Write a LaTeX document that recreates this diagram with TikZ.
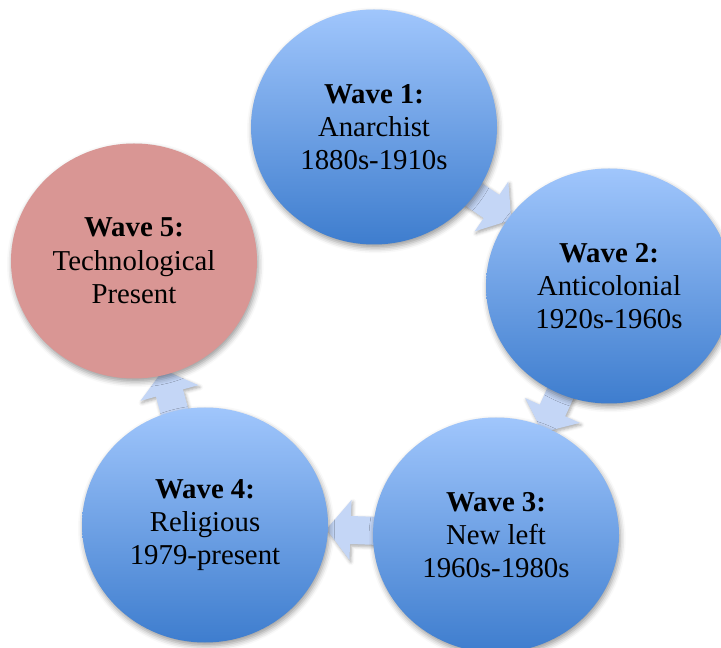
\documentclass[tikz,border=0pt]{standalone}
\usepackage{fontspec}
\setmainfont{Liberation Serif}
\usetikzlibrary{shapes.geometric,shadows.blur,calc}

\definecolor{waveTop}{RGB}{160,198,252}
\definecolor{waveBot}{RGB}{62,125,206}
\definecolor{waveRed}{RGB}{217,150,148}
\definecolor{arrowFill}{RGB}{196,214,246}

\pgfdeclarelayer{bg}
\pgfsetlayers{bg,main}

\tikzset{
  wave/.style={ellipse, inner sep=0pt, minimum width=184.5pt, minimum height=176.25pt,
    align=center, font=\fontsize{21.6}{25}\selectfont,
    blur shadow={shadow xshift=1pt, shadow yshift=-2.5pt, shadow blur radius=4pt, shadow opacity=40}},
  bluewave/.style={wave, top color=waveTop, bottom color=waveBot},
  redwave/.style={wave, fill=waveRed},
  pics/cyclearrow/.style={code={
    \fill[arrowFill, blur shadow={shadow xshift=1pt, shadow yshift=-1.5pt, shadow blur radius=2.5pt, shadow opacity=35}]
      (-25,-14) -- (0,-14) -- (0,-30) -- (24,0) -- (0,30) -- (0,14) -- (-25,14) -- cycle;
  }}
}

\begin{document}
\begin{tikzpicture}[x=0.75pt, y=-0.75pt]
  \useasboundingbox (0,0) rectangle (721,648);

  % the five waves
  \node[bluewave] (w1) at (374,127) {\textbf{Wave 1:}\\Anarchist\\1880s-1910s};
  \node[bluewave] (w2) at (609,286) {\textbf{Wave 2:}\\Anticolonial\\1920s-1960s};
  \node[bluewave] (w3) at (496,535) {\textbf{Wave 3:}\\New left\\1960s-1980s};
  \node[bluewave] (w4) at (205,525) {\textbf{Wave 4:}\\Religious\\1979-present};
  \node[redwave]  (w5) at (134,261) {\textbf{Wave 5:}\\Technological\\Present};

  % block arrows between consecutive waves, behind the circles
  \begin{pgfonlayer}{bg}
    \foreach \a/\b in {w1/w2, w2/w3, w3/w4, w4/w5}
      \path let \p1 = ($(\b)-(\a)$), \n1 = {atan2(\y1,\x1)} in
        ($(\a)!0.5!(\b)$) pic[rotate=\n1] {cyclearrow};
  \end{pgfonlayer}
\end{tikzpicture}
\end{document}
